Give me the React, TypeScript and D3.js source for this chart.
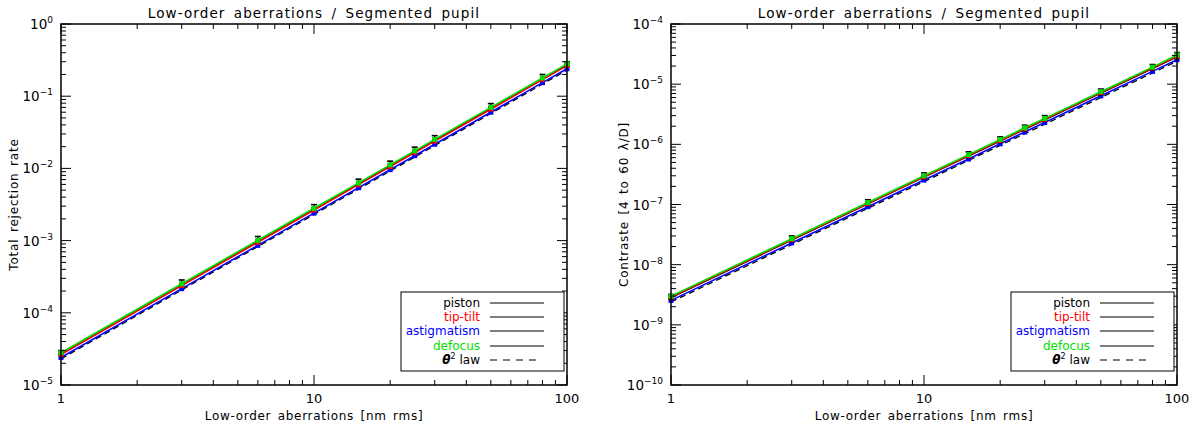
import React from "react";
import * as d3 from "d3";

const xs = [1, 3, 6, 10, 15, 20, 25, 30, 50, 80, 100];

// Left panel: total rejection rate
const rejPiston = [2.7e-5, 2.43e-4, 9.7e-4, 2.7e-3, 6.1e-3, 1.08e-2, 1.69e-2, 2.43e-2, 6.75e-2, 0.173, 0.27];
const rejTipTilt = [2.65e-5, 2.39e-4, 9.5e-4, 2.65e-3, 5.96e-3, 1.06e-2, 1.66e-2, 2.39e-2, 6.6e-2, 0.17, 0.265];
const rejAstig = [2.4e-5, 2.16e-4, 8.6e-4, 2.4e-3, 5.4e-3, 9.6e-3, 1.5e-2, 2.16e-2, 6.0e-2, 0.154, 0.24];
const rejDefocus = [2.8e-5, 2.52e-4, 1.01e-3, 2.8e-3, 6.3e-3, 1.12e-2, 1.75e-2, 2.52e-2, 7.0e-2, 0.179, 0.28];
const rejErrTop = [3.0e-5, 2.85e-4, 1.14e-3, 3.15e-3, 7.1e-3, 1.26e-2, 1.97e-2, 2.84e-2, 7.9e-2, 0.2, 0.3];
const rejLawX = [1, 100];
const rejLaw = [2.3e-5, 0.23];

// Right panel: contrast [4 to 60 lambda/D]
const conPiston = [2.85e-9, 2.56e-8, 1.03e-7, 2.85e-7, 6.4e-7, 1.14e-6, 1.78e-6, 2.56e-6, 7.1e-6, 1.82e-5, 2.85e-5];
const conTipTilt = [2.9e-9, 2.61e-8, 1.04e-7, 2.9e-7, 6.5e-7, 1.16e-6, 1.81e-6, 2.61e-6, 7.25e-6, 1.86e-5, 2.9e-5];
const conAstig = [2.55e-9, 2.3e-8, 9.2e-8, 2.55e-7, 5.7e-7, 1.02e-6, 1.6e-6, 2.3e-6, 6.4e-6, 1.63e-5, 2.55e-5];
const conDefocus = [3.0e-9, 2.7e-8, 1.08e-7, 3.0e-7, 6.75e-7, 1.2e-6, 1.88e-6, 2.7e-6, 7.5e-6, 1.92e-5, 3.05e-5];
const conErrTop = [3.2e-9, 3.0e-8, 1.2e-7, 3.35e-7, 7.5e-7, 1.33e-6, 2.08e-6, 3.0e-6, 8.3e-6, 2.12e-5, 3.35e-5];
const conLawX = [1, 100];
const conLaw = [2.4e-9, 2.4e-5];

const xTickLabels = ["1", "10", "100"];
const legendNames = ["piston", "tip-tilt", "astigmatism", "defocus"];
const legendColors = ["#000000", "#ff0000", "#0000ff", "#00e000"];

const FONT = "'DejaVu Sans', sans-serif";

type PanelProps = {
  ox: number;
  yDomain: [number, number];
  yLabel: string;
  piston: number[];
  tiptilt: number[];
  astig: number[];
  defocus: number[];
  errTop: number[];
  lawX: number[];
  law: number[];
};

function Panel(p: PanelProps) {
  const left = p.ox;
  const right = p.ox + 506;
  const top = 24;
  const bottom = 385;
  const x = d3.scaleLog().domain([1, 100]).range([left, right]);
  const y = d3.scaleLog().domain(p.yDomain).range([bottom, top]);
  const line = d3
    .line<[number, number]>()
    .x((d) => x(d[0]))
    .y((d) => y(d[1]));
  const series = [
    { v: p.piston, c: "#000000" },
    { v: p.tiptilt, c: "#ff0000" },
    { v: p.astig, c: "#0000ff" },
    { v: p.defocus, c: "#00e000" },
  ];
  const lo = Math.round(Math.log10(p.yDomain[0]));
  const hi = Math.round(Math.log10(p.yDomain[1]));
  const yMajor: number[] = [];
  const yMinor: number[] = [];
  for (let e = lo; e <= hi; e++) {
    yMajor.push(e);
    if (e < hi) for (let m = 2; m <= 9; m++) yMinor.push(m * Math.pow(10, e));
  }
  const xMajor = [1, 10, 100];
  const xMinor: number[] = [];
  for (let e = 0; e < 2; e++) for (let m = 2; m <= 9; m++) xMinor.push(m * Math.pow(10, e));
  const axis = "#000";
  const ticks: JSX.Element[] = [];
  xMajor.forEach((v, i) => {
    ticks.push(<line key={"xM" + i} x1={x(v)} x2={x(v)} y1={bottom} y2={bottom - 10} stroke={axis} />);
    ticks.push(<line key={"xMt" + i} x1={x(v)} x2={x(v)} y1={top} y2={top + 10} stroke={axis} />);
  });
  xMinor.forEach((v, i) => {
    ticks.push(<line key={"xm" + i} x1={x(v)} x2={x(v)} y1={bottom} y2={bottom - 5} stroke={axis} />);
    ticks.push(<line key={"xmt" + i} x1={x(v)} x2={x(v)} y1={top} y2={top + 5} stroke={axis} />);
  });
  yMajor.forEach((e, i) => {
    const yy = y(Math.pow(10, e));
    ticks.push(<line key={"yM" + i} x1={left} x2={left + 10} y1={yy} y2={yy} stroke={axis} />);
    ticks.push(<line key={"yMr" + i} x1={right} x2={right - 10} y1={yy} y2={yy} stroke={axis} />);
  });
  yMinor.forEach((v, i) => {
    const yy = y(v);
    ticks.push(<line key={"ym" + i} x1={left} x2={left + 5} y1={yy} y2={yy} stroke={axis} />);
    ticks.push(<line key={"ymr" + i} x1={right} x2={right - 5} y1={yy} y2={yy} stroke={axis} />);
  });

  const legX = right - 166;
  const legY = 292;
  const rowY = [303, 317, 331, 346, 360];
  const textX = right - 87;
  const lx1 = right - 77;
  const lx2 = right - 23;

  return (
    <g fontFamily={FONT}>
      <text x={(left + right) / 2} y={18} textAnchor="middle" fontSize={13.5} letterSpacing={1.1} wordSpacing={3}>
        Low-order aberrations / Segmented pupil
      </text>
      {/* law dashed */}
      <path
        d={line(p.lawX.map((v, i) => [v, p.law[i]] as [number, number])) || ""}
        fill="none"
        stroke="#000"
        strokeWidth={1.3}
        strokeDasharray="6,4"
      />
      {series.map((s, k) => (
        <path
          key={"s" + k}
          d={line(xs.map((v, i) => [v, s.v[i]] as [number, number])) || ""}
          fill="none"
          stroke={s.c}
          strokeWidth={1.6}
        />
      ))}
      {/* error bars */}
      {xs.map((v, i) => (
        <g key={"e" + i}>
          <line x1={x(v)} x2={x(v)} y1={y(p.defocus[i])} y2={y(p.errTop[i])} stroke="#000" strokeWidth={1.2} />
          <line x1={x(v) - 3} x2={x(v) + 3} y1={y(p.errTop[i])} y2={y(p.errTop[i])} stroke="#000" strokeWidth={1.6} />
        </g>
      ))}
      {/* markers */}
      {[series[2], series[0], series[1], series[3]].map((s, k) =>
        xs.map((v, i) => (
          <rect
            key={"m" + k + "_" + i}
            x={x(v) - 2.5}
            y={y(s.v[i]) - 2.5}
            width={5}
            height={5}
            fill={s.c}
          />
        ))
      )}
      <rect x={left} y={top} width={right - left} height={bottom - top} fill="none" stroke="#000" strokeWidth={1.5} />
      {ticks}
      {/* tick labels */}
      {xMajor.map((v, i) => (
        <text key={"xl" + i} x={x(v)} y={403} textAnchor="middle" fontSize={13}>
          {xTickLabels[i]}
        </text>
      ))}
      {yMajor.map((e, i) => (
        <text key={"yl" + i} x={left - 8} y={y(Math.pow(10, e)) + 5} textAnchor="end" fontSize={13.5}>
          10
          <tspan dy={-6} fontSize={9}>
            {String(e).replace("-", "\u2212")}
          </tspan>
        </text>
      ))}
      <text x={(left + right) / 2} y={420} textAnchor="middle" fontSize={12} letterSpacing={0.7} wordSpacing={2}>
        Low-order aberrations [nm rms]
      </text>
      <text
        transform={`translate(${left - 43},${(top + bottom) / 2}) rotate(-90)`}
        textAnchor="middle"
        fontSize={12}
        letterSpacing={0.8}
        wordSpacing={2}
      >
        {p.yLabel}
      </text>
      {/* legend */}
      <rect x={legX} y={legY} width={163} height={79} fill="#fff" stroke="#000" strokeWidth={1} />
      {legendNames.map((n, i) => (
        <g key={"lg" + i}>
          <text x={textX} y={rowY[i] + 4} textAnchor="end" fontSize={12} fill={legendColors[i]}>
            {n}
          </text>
          <line x1={lx1} x2={lx2} y1={rowY[i]} y2={rowY[i]} stroke="#000" strokeWidth={1.2} />
        </g>
      ))}
      <text x={textX} y={rowY[4] + 4} textAnchor="end" fontSize={12}>
        <tspan fontWeight="bold" fontStyle="italic">θ</tspan>
        <tspan dy={-5} fontSize={8}>2</tspan>
        <tspan dy={5}>{"  law"}</tspan>
      </text>
      <line x1={lx1} x2={lx2 - 4} y1={rowY[4]} y2={rowY[4]} stroke="#000" strokeWidth={1.2} strokeDasharray="7,6" />
    </g>
  );
}

export default function App() {
  return (
    <svg
      width={1194}
      height={430}
      style={{ position: "absolute", left: 0, top: 0, background: "#fff" }}
    >
      <rect width={1194} height={430} fill="#fff" />
      <Panel
        ox={61}
        yDomain={[1e-5, 1]}
        yLabel="Total rejection rate"
        piston={rejPiston}
        tiptilt={rejTipTilt}
        astig={rejAstig}
        defocus={rejDefocus}
        errTop={rejErrTop}
        lawX={rejLawX}
        law={rejLaw}
      />
      <Panel
        ox={671}
        yDomain={[1e-10, 1e-4]}
        yLabel="Contraste [4 to 60 λ/D]"
        piston={conPiston}
        tiptilt={conTipTilt}
        astig={conAstig}
        defocus={conDefocus}
        errTop={conErrTop}
        lawX={conLawX}
        law={conLaw}
      />
    </svg>
  );
}
